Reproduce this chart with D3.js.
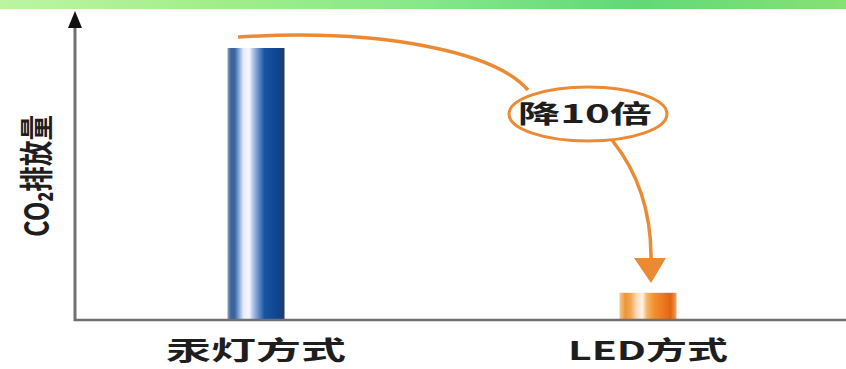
<!DOCTYPE html>
<html>
<head>
<meta charset="utf-8">
<script src="https://cdn.jsdelivr.net/npm/d3@7"></script>
<style>
body{margin:0;background:#fff;}
svg{display:block;}
text{font-family:"Noto Sans CJK SC","Noto Sans",sans-serif;font-weight:bold;fill:#1e1e1e;}
</style>
</head>
<body>
<div id="canvas"></div>
<script>
let categories = ['汞灯方式', 'LED方式'],
values = [100, 10],
yLabel = 'CO₂排放量',
note = '降10倍';

let W = 846, H = 369,
axisX = 75, axisY = 320,
barw = 57,
svg = d3.select('#canvas').append('svg').attr('width', W).attr('height', H);

let x = d3.scalePoint().domain(categories).range([256, 648]),
y = d3.scaleLinear().domain([0, 100]).range([axisY, 48]);

let defs = svg.append('defs');

//top green band
let gTop = defs.append('linearGradient').attr('id', 'topband');
[['0%', '#bdf5a2'], ['25%', '#a2ee8a'], ['50%', '#86e88a'], ['75%', '#62d878'], ['100%', '#86e274']].forEach(d=>{
	gTop.append('stop').attr('offset', d[0]).attr('stop-color', d[1]);
});
svg.append('rect').attr('x', 0).attr('y', 0).attr('width', W).attr('height', 9).style('fill', 'url(#topband)');

//stripe gradients for bars
let stripes = [
	[[0, '#86a3c8'], [0.06, '#3d6298'], [0.13, '#3a66a2'], [0.2, '#86a6d4'], [0.28, '#e6ebfa'], [0.38, '#f6f6ff'], [0.45, '#b0c1e6'], [0.55, '#6088c8'], [0.65, '#1654a2'], [0.86, '#0d4690'], [1, '#22386c']],
	[[0, '#f6c88e'], [0.1, '#ef9436'], [0.2, '#f2a858'], [0.3, '#fbdcb8'], [0.4, '#fff3e6'], [0.48, '#f6b46a'], [0.6, '#f0922e'], [0.75, '#ee7a22'], [0.9, '#e06414'], [1, '#f0a060']]
];
stripes.forEach((s, i)=>{
	let g = defs.append('linearGradient').attr('id', 'bar' + i);
	s.forEach(d=>{
		g.append('stop').attr('offset', d[0] * 100 + '%').attr('stop-color', d[1]);
	});
});

//bars
svg.selectAll('.bar').data(values).enter().append('rect')
.attr('x', (d, i)=>x(categories[i]) - barw / 2)
.attr('y', d=>y(d))
.attr('width', barw)
.attr('height', d=>axisY - y(d))
.style('fill', (d, i)=>'url(#bar' + i + ')');

//axes
svg.append('line').attr('x1', axisX).attr('y1', 26).attr('x2', axisX).attr('y2', axisY + 1)
.style('stroke', '#707070').style('stroke-width', 3);
svg.append('line').attr('x1', axisX - 1).attr('y1', axisY).attr('x2', W).attr('y2', axisY)
.style('stroke', '#707070').style('stroke-width', 2.5);
svg.append('path').attr('d', `M${axisX},11 L${axisX - 7},28 L${axisX + 7},28 Z`).style('fill', '#111');

//category labels
svg.selectAll('.catlabel').data(categories).enter().append('text')
.attr('x', d=>x(d))
.attr('y', 360)
.attr('text-anchor', 'middle')
.attr('textLength', (d, i)=>i == 0 ? 180 : 160)
.attr('lengthAdjust', 'spacingAndGlyphs')
.style('font-size', '26px')
.text(d=>d);

//y label, stretched sideways like the picture
svg.append('text')
.attr('transform', 'translate(49,176) scale(1.6,1) rotate(-90)')
.attr('text-anchor', 'middle')
.attr('textLength', 122)
.attr('lengthAdjust', 'spacingAndGlyphs')
.style('font-size', '21px')
.text(yLabel);

//orange arrow
let orange = '#ec8a34',
x0 = x(categories[0]), x1 = x(categories[1]);
let p1 = d3.path();
p1.moveTo(x0 - 18, y(values[0]) - 11);
p1.bezierCurveTo(x0 + 130, y(values[0]) - 20, x0 + 240, y(values[0]) + 5, x0 + 272, y(values[0]) + 42);
let p2 = d3.path();
p2.moveTo(x1 - 36, 140);
p2.bezierCurveTo(x1 - 12, 170, x1 + 4, 210, x1 + 3, 262);
svg.append('path').attr('d', p1.toString()).style('fill', 'none').style('stroke', orange).style('stroke-width', 3.5);
svg.append('path').attr('d', p2.toString()).style('fill', 'none').style('stroke', orange).style('stroke-width', 3.5);
svg.append('path')
.attr('d', `M${x1 - 14},258 L${x1 + 18},258 L${x1 + 3},283 Z`)
.style('fill', orange);

//ellipse note
svg.append('ellipse').attr('cx', 588).attr('cy', 114).attr('rx', 79).attr('ry', 27)
.style('fill', '#fff').style('stroke', orange).style('stroke-width', 3);
svg.append('text')
.attr('x', 585).attr('y', 123)
.attr('text-anchor', 'middle')
.attr('textLength', 134)
.attr('lengthAdjust', 'spacingAndGlyphs')
.style('font-size', '25px')
.text(note);
</script>
</body>
</html>
